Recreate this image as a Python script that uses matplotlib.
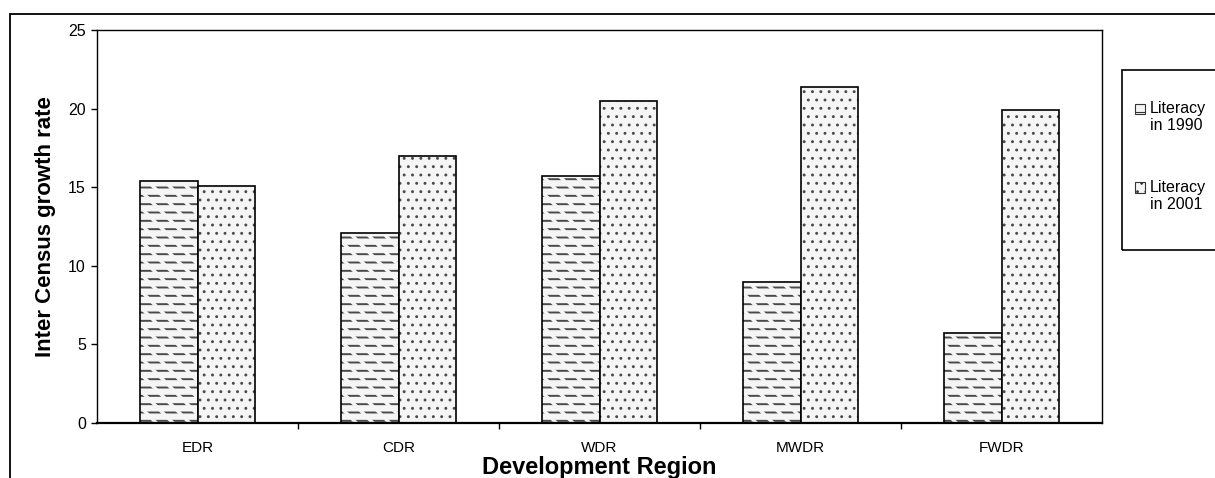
import numpy as np
import matplotlib
matplotlib.use("Agg")
import matplotlib.pyplot as plt
from matplotlib.patches import Rectangle
from matplotlib.legend_handler import HandlerPatch

plt.rcParams["font.family"] = ["Liberation Sans", "DejaVu Sans"]

regions = ["EDR", "CDR", "WDR", "MWDR", "FWDR"]
lit_1990 = [15.4, 12.1, 15.7, 9.0, 5.7]
lit_2001 = [15.1, 17.0, 20.5, 21.4, 19.9]
labels = ["Literacy\nin 1990", "Literacy\nin 2001"]

FILL = "#f5f5f5"


def hatched_bar(ax, x, vals, w, hatch, hatch_lw, breaks=None):
    plt.rcParams["hatch.linewidth"] = hatch_lw
    ax.bar(x, vals, w, color=FILL, edgecolor="#4a4a4a", hatch=hatch, linewidth=0)
    if breaks:
        # fill-coloured diagonals chop the lines into staggered dashes
        plt.rcParams["hatch.linewidth"] = 2.5
        ax.bar(x, vals, w, fill=False, edgecolor=FILL, hatch=breaks, linewidth=0)
    ax.bar(x, vals, w, fill=False, edgecolor="black", linewidth=1.2)


def raised_patch(legend, orig_handle, xdescent, ydescent, width, height, fontsize):
    # put the key next to the first line of a two-line label
    return Rectangle((-xdescent, -ydescent + 0.55 * fontsize), width, height)


def plot_chart():
    fig = plt.figure(figsize=(12.15, 4.78), dpi=100)
    ax = fig.add_axes([97 / 1215, 1 - 423 / 478, 1005 / 1215, 393 / 478])

    x = np.arange(len(regions))
    w = 0.286
    hatched_bar(ax, x - w / 2, lit_1990, w, "--", 1.4, breaks="\\\\")
    hatched_bar(ax, x + w / 2, lit_2001, w, "..", 0.9)

    plt.rcParams["hatch.linewidth"] = 0.8
    handles = [Rectangle((0, 0), 1, 1, facecolor=FILL, edgecolor="#333333",
                         hatch=h, linewidth=0.8) for h in ("--", "..")]

    ax.set_xlim(-0.5, len(regions) - 0.5)
    ax.set_ylim(0, 25)
    ax.set_yticks(range(0, 26, 5))
    ax.set_xticks(x)
    ax.set_xticklabels(regions, fontsize=11)
    ax.set_xticks(np.arange(0.5, len(regions) - 0.5, 1), minor=True)
    ax.tick_params(axis="x", which="major", length=0, pad=13)
    ax.tick_params(axis="x", which="minor", length=4, width=1)
    ax.tick_params(axis="y", labelsize=11.5, length=4, width=1, pad=4)
    for s in ax.spines.values():
        s.set_linewidth(1)
    ax.spines["bottom"].set_linewidth(1.6)

    ax.set_ylabel("Inter Census growth rate", fontsize=16, fontweight="bold", labelpad=9)
    ax.set_xlabel("Development Region", fontsize=17, fontweight="bold", labelpad=1)

    # outer chart border
    fig.patches.append(Rectangle((10 / 1215, -0.05), 1.1, 1.05 - 14 / 478,
                                 transform=fig.transFigure, fill=False,
                                 edgecolor="black", linewidth=1.3))
    # legend box
    fig.patches.append(Rectangle((1122 / 1215, 1 - 250 / 478), 0.2, 180 / 478,
                                 transform=fig.transFigure, fill=False,
                                 edgecolor="black", linewidth=1.2))
    fig.legend(handles, labels, loc="upper left", frameon=False,
               bbox_to_anchor=(1135 / 1215, 1 - 101 / 478), fontsize=11.5,
               handlelength=0.6, handleheight=0.6, handletextpad=0.35,
               labelspacing=2.9, borderpad=0, borderaxespad=0,
               handler_map={Rectangle: HandlerPatch(patch_func=raised_patch)})

    fig.savefig("out.png", dpi=100)


if __name__ == "__main__":
    plot_chart()
